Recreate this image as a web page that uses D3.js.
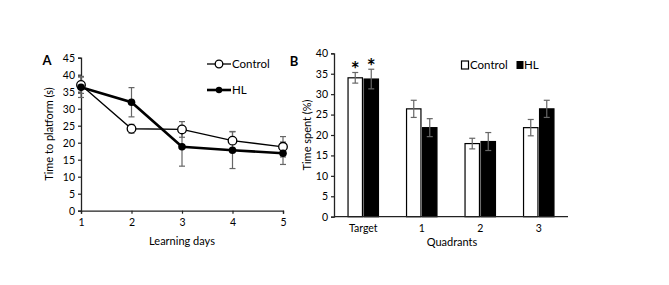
<!DOCTYPE html>
<html><head><meta charset="utf-8">
<script src="https://cdn.jsdelivr.net/npm/d3@7"></script>
<style>
body{margin:0;background:#fff;}
text{font-family:Lato,"Open Sans",sans-serif;fill:#000;}
</style></head>
<body><svg id="c" width="669" height="285"></svg>
<script>
const days = [1,2,3,4,5];
const controlA = [37.0, 24.1, 23.9, 20.6, 18.8];
const controlAErr = [2.5, 1.3, 2.3, 2.7, 3.0];
const hlA = [36.3, 31.9, 18.8, 17.8, 16.9];
const hlAErr = [3.0, 4.3, 5.7, 5.4, 3.3];
const yTicksA = [0,5,10,15,20,25,30,35,40,45];

const quadrants = ["Target","1","2","3"];
const controlB = [34.0, 26.4, 17.9, 21.8];
const controlBErr = [1.3, 2.1, 1.3, 2.0];
const hlB = [33.7, 21.8, 18.4, 26.4];
const hlBErr = [2.4, 2.2, 2.2, 2.1];
const yTicksB = [0,5,10,15,20,25,30,35,40];
const significant = [true, false, false, false];

const svg = d3.select("#c");
const errColor = "#666";

// ---------- Panel A ----------
const xA = d3.scaleLinear().domain([1,5]).range([81, 283]);
const yA = d3.scaleLinear().domain([0,45]).range([210.7, 57.7]);
const gA = svg.append("g");
const axYA = gA.append("g").attr("transform","translate(81,0)")
  .call(d3.axisLeft(yA).tickValues(yTicksA).tickSize(3).tickPadding(3));
const axXA = gA.append("g").attr("transform","translate(0,210.7)")
  .call(d3.axisBottom(xA).tickValues(days).tickFormat(d3.format("d")).tickSize(3).tickPadding(5));
[axYA, axXA].forEach(a=>{
  a.select(".domain").attr("stroke","#222").attr("stroke-width",1.3);
  a.selectAll(".tick line").attr("stroke","#222").attr("stroke-width",1.2);
  a.selectAll(".tick text").attr("font-size",10.5).attr("fill","#000");
});

function errBars(g, xs, ys, es, xScale, yScale) {
  xs.forEach((d,i)=>{
    const x = xScale(d), y1 = yScale(ys[i]+es[i]), y2 = yScale(ys[i]-es[i]);
    g.append("line").attr("x1",x).attr("x2",x).attr("y1",y1).attr("y2",y2).attr("stroke",errColor).attr("stroke-width",1.2);
    g.append("line").attr("x1",x-3).attr("x2",x+3).attr("y1",y1).attr("y2",y1).attr("stroke",errColor).attr("stroke-width",1.2);
    g.append("line").attr("x1",x-3).attr("x2",x+3).attr("y1",y2).attr("y2",y2).attr("stroke",errColor).attr("stroke-width",1.2);
  });
}
errBars(gA, days, controlA, controlAErr, xA, yA);
errBars(gA, days, hlA, hlAErr, xA, yA);

const line = d3.line().x((d,i)=>xA(days[i])).y(d=>yA(d));
gA.append("path").datum(controlA).attr("d",line).attr("fill","none").attr("stroke","#000").attr("stroke-width",1.3);
gA.append("path").datum(hlA).attr("d",line).attr("fill","none").attr("stroke","#000").attr("stroke-width",2.6);
gA.selectAll("circle.c").data(controlA).join("circle").attr("cx",(d,i)=>xA(days[i])).attr("cy",d=>yA(d))
  .attr("r",4.3).attr("fill","#fff").attr("stroke","#000").attr("stroke-width",1.3);
gA.selectAll("circle.h").data(hlA).join("circle").attr("cx",(d,i)=>xA(days[i])).attr("cy",d=>yA(d))
  .attr("r",3.8).attr("fill","#000");

// legend A
gA.append("line").attr("x1",207).attr("x2",231).attr("y1",64).attr("y2",64).attr("stroke","#000").attr("stroke-width",1.3);
gA.append("circle").attr("cx",219).attr("cy",64).attr("r",3.8).attr("fill","#fff").attr("stroke","#000").attr("stroke-width",1.3);
gA.append("text").attr("x",232).attr("y",68).attr("font-size",11.5).text("Control");
gA.append("line").attr("x1",207).attr("x2",231).attr("y1",90).attr("y2",90).attr("stroke","#000").attr("stroke-width",2.6);
gA.append("circle").attr("cx",219).attr("cy",90).attr("r",3.2).attr("fill","#000");
gA.append("text").attr("x",232).attr("y",94).attr("font-size",11.5).text("HL");

gA.append("text").attr("x",47).attr("y",65).attr("font-size",13).attr("font-weight","bold").attr("text-anchor","middle").text("A");
gA.append("text").attr("transform","translate(53,134) rotate(-90)").attr("text-anchor","middle").attr("font-size",11).text("Time to platform (s)");
gA.append("text").attr("x",182).attr("y",245).attr("text-anchor","middle").attr("font-size",11).text("Learning days");

// ---------- Panel B ----------
const xB = d3.scaleBand().domain(quadrants).range([334, 568]).paddingInner(0.48).paddingOuter(0.24);
const xSub = d3.scaleBand().domain(["Control","HL"]).range([0, xB.bandwidth()]).paddingInner(0.1);
const yB = d3.scaleLinear().domain([0,40]).range([216.7, 53.3]);
const gB = svg.append("g");

quadrants.forEach((q,i)=>{
  const series = [["Control", controlB[i], controlBErr[i], "#fff"], ["HL", hlB[i], hlBErr[i], "#000"]];
  series.forEach(([s,v,e,fill])=>{
    const x = xB(q) + xSub(s), w = xSub.bandwidth();
    gB.append("rect").attr("x",x).attr("y",yB(v)).attr("width",w).attr("height",yB(0)-yB(v))
      .attr("fill",fill).attr("stroke","#000").attr("stroke-width",1.2);
    const cx = x + w/2, y1 = yB(v+e), y2 = yB(v-e);
    gB.append("line").attr("x1",cx).attr("x2",cx).attr("y1",y1).attr("y2",y2).attr("stroke",errColor).attr("stroke-width",1.2);
    gB.append("line").attr("x1",cx-3).attr("x2",cx+3).attr("y1",y1).attr("y2",y1).attr("stroke",errColor).attr("stroke-width",1.2);
    gB.append("line").attr("x1",cx-3).attr("x2",cx+3).attr("y1",y2).attr("y2",y2).attr("stroke",errColor).attr("stroke-width",1.2);
    if (significant[i]) {
      gB.append("text").attr("x",cx).attr("y",y1+5).attr("text-anchor","middle").attr("font-size",21).attr("font-weight","bold").text("*");
    }
  });
});

const axYB = gB.append("g").attr("transform","translate(334,0)")
  .call(d3.axisLeft(yB).tickValues(yTicksB).tickSize(3).tickPadding(3));
const axXB = gB.append("g").attr("transform","translate(0,216.7)")
  .call(d3.axisBottom(xB).tickSize(0).tickPadding(8));
[axYB, axXB].forEach(a=>{
  a.select(".domain").attr("stroke","#222").attr("stroke-width",1.3);
  a.selectAll(".tick line").attr("stroke","#222").attr("stroke-width",1.2);
  a.selectAll(".tick text").attr("font-size",10.5).attr("fill","#000");
});
axXB.select(".domain").attr("d","M334,0H568");

// legend B
gB.append("rect").attr("x",461.5).attr("y",61).attr("width",7).attr("height",8).attr("fill","#fff").attr("stroke","#000").attr("stroke-width",1.2);
gB.append("text").attr("x",470).attr("y",69).attr("font-size",11.5).text("Control");
gB.append("rect").attr("x",516.5).attr("y",61).attr("width",7).attr("height",8).attr("fill","#000");
gB.append("text").attr("x",524).attr("y",69).attr("font-size",11.5).text("HL");

gB.append("text").attr("x",294).attr("y",66).attr("font-size",13).attr("font-weight","bold").attr("text-anchor","middle").text("B");
gB.append("text").attr("transform","translate(311,135) rotate(-90)").attr("text-anchor","middle").attr("font-size",11).text("Time spent (%)");
gB.append("text").attr("x",452).attr("y",246).attr("text-anchor","middle").attr("font-size",11).text("Quadrants");
</script></body></html>
